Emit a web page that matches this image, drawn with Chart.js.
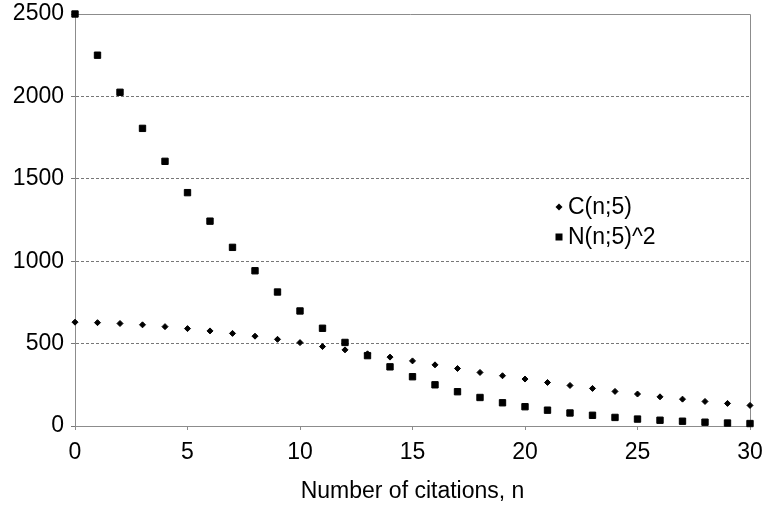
<!DOCTYPE html>
<html>
<head>
<meta charset="utf-8">
<script src="https://cdn.jsdelivr.net/npm/chart.js@4/dist/chart.umd.min.js"></script>
<style>
  html, body { margin: 0; padding: 0; background: #fff; }
  #wrap { width: 773px; height: 509px; }
</style>
</head>
<body>
<div id="wrap"><canvas id="chart" width="773" height="509"></canvas></div>
<script>
// datos
const citas = [0, 1, 2, 3, 4, 5, 6, 7, 8, 9, 10, 11, 12, 13, 14, 15, 16, 17, 18, 19, 20, 21, 22, 23, 24, 25, 26, 27, 28, 29, 30];
const serieC = [630, 627, 622, 614, 603, 591, 577, 562, 545, 526, 506, 482, 462, 438, 418, 395, 371, 349, 325, 305, 285, 264, 246, 228, 210, 194, 177, 163, 149, 137, 125];
const serieN2 = [2500, 2250, 2025, 1806, 1606, 1416, 1243, 1084, 942, 813, 698, 593, 507, 427, 359, 299, 250, 208, 173, 141, 117, 96, 79, 65, 52, 42, 35, 29, 23, 18, 15];
const etiquetas = ['C(n;5)', 'N(n;5)^2'];
const tituloX = 'Number of citations, n';

const fuente = '"Liberation Sans", Arial, sans-serif';
const gris = '#8c8c8c';

function puntos(arr) {
    return citas.map((n, i) => ({ x: n, y: arr[i] }));
}

// marco superior/derecho y leyenda dentro del área
const marcoYLeyenda = {
    id: 'marcoYLeyenda',
    beforeDatasetsDraw(chart) {
        const { ctx, chartArea: a } = chart;
        ctx.save();
        ctx.strokeStyle = gris;
        ctx.lineWidth = 1;
        ctx.setLineDash([]);
        ctx.beginPath();
        ctx.moveTo(a.left - 4, a.top + 0.5);
        ctx.lineTo(a.right + 0.5, a.top + 0.5);
        ctx.lineTo(a.right + 0.5, a.bottom);
        ctx.stroke();
        ctx.restore();
    },
    afterDraw(chart) {
        const { ctx } = chart;
        ctx.save();
        // leyenda
        const lx = 559, ly = [207, 237];
        ctx.fillStyle = '#000';
        ctx.font = '23px ' + fuente;
        ctx.textBaseline = 'middle';
        chart.data.datasets.forEach((ds, i) => {
            const y = ly[i];
            ctx.beginPath();
            if (ds.pointStyle === 'rectRot') {
                ctx.moveTo(lx - 3.5, y); ctx.lineTo(lx, y - 3.5);
                ctx.lineTo(lx + 3.5, y); ctx.lineTo(lx, y + 3.5);
                ctx.closePath(); ctx.fill();
            } else {
                ctx.fillRect(lx - 3.5, y - 3.5, 7, 7);
            }
            ctx.fillText(ds.label, lx + 9, y + 1);
        });
        ctx.restore();
    }
};

const ctx = document.getElementById('chart').getContext('2d');
new Chart(ctx, {
    type: 'scatter',
    data: {
        datasets: [{
            label: etiquetas[0],
            data: puntos(serieC),
            pointStyle: 'rectRot',
            pointRadius: 3,
            borderWidth: 1,
            borderColor: '#000',
            backgroundColor: '#000',
            clip: false
        }, {
            label: etiquetas[1],
            data: puntos(serieN2),
            pointStyle: 'rect',
            pointRadius: 4.5,
            borderWidth: 1,
            borderColor: '#000',
            backgroundColor: '#000',
            clip: false
        }]
    },
    options: {
        responsive: false,
        animation: false,
        layout: { padding: { top: 14, right: 23, left: 0, bottom: 0 } },
        plugins: {
            legend: { display: false },
            tooltip: { enabled: false }
        },
        scales: {
            x: {
                type: 'linear',
                min: 0, max: 30,
                ticks: { stepSize: 5, color: '#000', padding: 9, font: { family: fuente, size: 23 }, maxRotation: 0 },
                grid: { drawOnChartArea: false, drawTicks: true, tickLength: 4, color: gris },
                border: { color: gris, width: 1 },
                title: { display: true, text: tituloX, color: '#000', font: { family: fuente, size: 23 }, padding: { top: 0, bottom: 4 } },
                afterFit(scale) { scale.height = 83; scale.paddingLeft = 0; scale.paddingRight = 0; }
            },
            y: {
                min: 0, max: 2500,
                ticks: {
                    stepSize: 500, color: '#000', padding: 7, font: { family: fuente, size: 23 },
                    callback: (v) => String(v)
                },
                grid: { color: '#777', tickLength: 4, lineWidth: 1 },
                border: { color: gris, width: 1, dash: [3, 2] },
                afterFit(scale) { scale.width = 75; scale.paddingTop = 0; scale.paddingBottom = 0; }
            }
        }
    },
    plugins: [marcoYLeyenda]
});
</script>
</body>
</html>
